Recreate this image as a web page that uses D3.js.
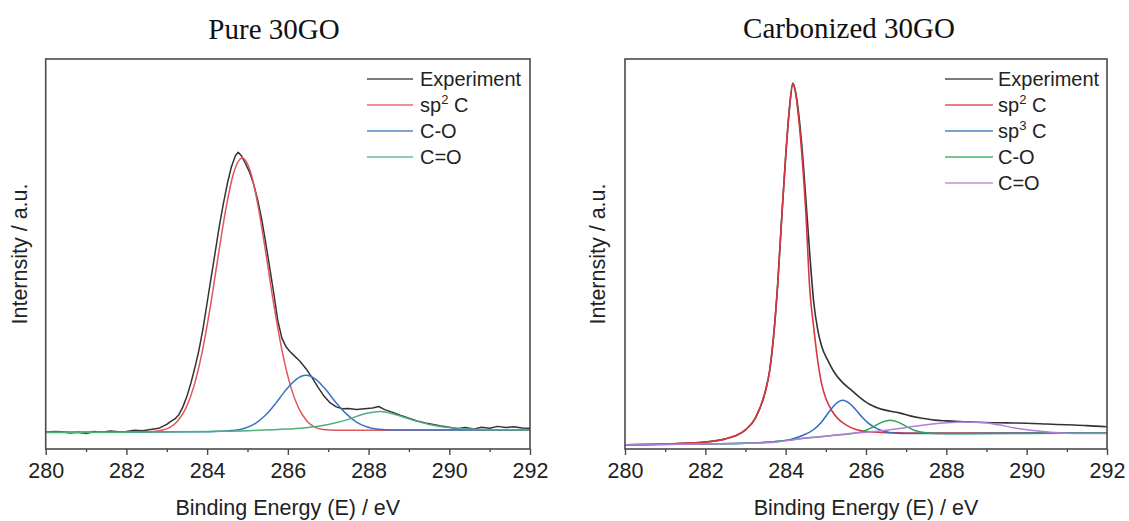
<!DOCTYPE html>
<html><head><meta charset="utf-8">
<script src="https://cdn.jsdelivr.net/npm/d3@7"></script>
<style>body{margin:0;background:#fff}svg{display:block}</style>
</head><body><svg id="c" width="1129" height="521"></svg>
<script>
// ---------- shared axis text ----------
const xMajorTicks = [280, 282, 284, 286, 288, 290, 292];
const xMinorTicks = [281, 283, 285, 287, 289, 291];
const xLabelText = "Binding Energy (E) / eV";
const yLabelText = "Internsity / a.u.";

// ---------- Pure 30GO (left) : [binding energy, intensity a.u.] ----------
const pureTitle = "Pure 30GO";
const pureLegend = ["Experiment", "sp^2 C", "C-O", "C=O"];
const pureExperiment = [
  [280.0,4.3],[280.2,4.5],[280.4,4.4],[280.6,4.1],[280.8,4.3],[281.0,4.0],[281.2,4.5],[281.4,4.3],
  [281.6,4.6],[281.8,4.4],[282.0,4.5],[282.2,4.8],[282.4,4.7],[282.6,5.0],[282.8,5.3],[283.0,6.3],
  [283.1,7.1],[283.2,7.7],[283.3,8.8],[283.4,10.8],[283.5,13.5],[283.6,17],[283.7,21],[283.8,25.5],
  [283.9,31],[284.0,37.5],[284.1,44],[284.2,50.5],[284.3,57],[284.4,62.8],[284.5,68],[284.6,72.3],
  [284.7,75.2],[284.77,76.1],[284.85,75.2],[284.95,73.2],[285.05,71],[285.15,68],[285.25,64],
  [285.35,59],[285.45,53],[285.55,46.5],[285.65,40],[285.75,33],[285.85,28.5],[285.95,26.3],
  [286.05,25],[286.15,24],[286.3,22.5],[286.45,20.6],[286.6,18.3],[286.75,15.8],[286.9,13.5],
  [287.05,11.8],[287.2,10.8],[287.35,10.3],[287.5,10.4],[287.7,10.1],[287.9,10.3],[288.1,10.5],
  [288.25,10.9],[288.4,10.1],[288.6,9.4],[288.8,8.6],[289.0,7.9],[289.2,7.2],[289.4,6.7],
  [289.6,6.3],[289.8,5.9],[290.0,5.6],[290.2,5.2],[290.4,5.5],[290.6,5.1],[290.8,5.6],[291.0,5.3],
  [291.2,5.8],[291.4,5.5],[291.6,5.7],[291.8,5.4],[292.0,5.3]
];
const pureSp2 = [
  [280,4.3],[282,4.3],[282.4,4.4],[282.67,4.5],[282.87,4.8],[283.07,5.5],[283.27,7.2],[283.47,10.4],
  [283.67,16.0],[283.87,24.5],[284.07,35.9],[284.27,49.2],[284.47,61.9],[284.67,71.2],[284.87,74.6],
  [285.07,71.2],[285.27,61.9],[285.47,49.2],[285.67,35.9],[285.87,24.5],[286.07,16.0],[286.27,10.4],
  [286.47,7.2],[286.67,5.6],[286.87,5.0],[287.2,4.8],[288,4.8],[290,4.85],[292,4.9]
];
const pureCO = [
  [280,4.3],[282,4.35],[283.5,4.4],[284.2,4.5],[284.7,4.8],[284.95,5.4],[285.2,6.6],[285.45,8.7],
  [285.7,11.7],[285.95,15.1],[286.2,17.8],[286.45,18.9],[286.7,17.8],[286.95,15.1],[287.2,11.8],
  [287.45,9.0],[287.7,6.9],[287.95,5.7],[288.2,5.1],[288.6,4.85],[290,4.85],[292,4.9]
];
const pureCdO = [
  [280,4.2],[282,4.3],[284,4.5],[285,4.7],[286,5.1],[286.5,5.5],[287,6.3],[287.5,7.6],[287.8,8.7],
  [288.1,9.4],[288.3,9.6],[288.5,9.3],[288.8,8.4],[289.1,7.4],[289.5,6.3],[290,5.5],[290.5,5.1],
  [291,4.95],[292,4.9]
];

// ---------- Carbonized 30GO (right) ----------
const carbTitle = "Carbonized 30GO";
const carbLegend = ["Experiment", "sp^2 C", "sp^3 C", "C-O", "C=O"];
const carbExperiment = [
  [280,1.1],[281,1.3],[282,1.8],[282.5,2.6],[282.75,3.4],[283,4.9],[283.25,8.0],[283.5,15],
  [283.6,20],[283.7,29],[283.8,42],[283.9,59],[284.0,75],[284.1,88],[284.18,93.8],[284.24,91.8],
  [284.3,88],[284.4,78],[284.5,64.5],[284.6,50],[284.7,37.5],[284.8,30.5],[284.9,26.2],[285.05,22.7],
  [285.2,19.8],[285.4,17.2],[285.6,15.4],[285.85,13.2],[286.1,11.4],[286.35,10.3],[286.6,9.7],
  [286.85,9.2],[287.1,8.5],[287.4,7.9],[287.7,7.4],[288.0,7.2],[288.5,7.0],[289.0,6.8],[289.5,6.7],
  [290.0,6.6],[290.5,6.4],[291.0,6.2],[291.5,6.0],[292.0,5.7]
];
const carbSp2 = [
  [280,1.1],[281,1.3],[282,1.8],[282.5,2.6],[282.75,3.4],[283,4.9],[283.25,8.0],[283.5,15],
  [283.6,20],[283.7,29],[283.8,42],[283.9,59],[284.0,75],[284.1,88],[284.18,93.8],[284.24,91.8],
  [284.3,87],[284.4,76],[284.5,61],[284.6,41],[284.7,31],[284.8,22.5],[284.9,16.5],[285.0,13],
  [285.15,9.8],[285.3,7.8],[285.5,6.2],[285.75,5.0],[286.0,4.5],[286.5,4.2],[287,4.1],[288,4.1],
  [290,4.1],[292,4.1]
];
const carbSp3 = [
  [280,1.1],[282,1.3],[283,1.5],[283.5,1.7],[283.8,2.0],[284.1,2.4],[284.4,3.4],[284.7,5.0],
  [284.9,7.0],[285.1,9.8],[285.25,11.6],[285.42,12.5],[285.6,11.6],[285.75,10.0],[285.9,8.2],
  [286.05,6.7],[286.2,5.6],[286.4,4.7],[286.6,4.2],[286.85,4.0],[288,4.0],[292,4.1]
];
const carbCO = [
  [280,1.1],[282,1.3],[283.5,1.7],[284.5,2.8],[285.3,3.6],[285.8,4.2],[286.0,4.8],[286.2,5.8],
  [286.4,6.9],[286.6,7.4],[286.8,6.9],[287.0,5.8],[287.2,4.8],[287.4,4.3],[287.7,4.0],[288.5,3.9],
  [290,4.0],[292,4.1]
];
const carbCdO = [
  [280,1.1],[282,1.3],[283.5,1.6],[283.8,1.8],[284.2,2.4],[284.7,3.0],[285.2,3.5],[285.6,4.0],
  [286.0,4.3],[286.5,4.8],[287.0,5.5],[287.5,6.2],[288.0,6.7],[288.4,6.9],[288.9,6.8],[289.3,6.2],
  [289.7,5.4],[290.1,4.8],[290.6,4.3],[291.2,4.0],[292,4.0]
];

// ---------- drawing ----------
const svg = d3.select("#c");
const FONT = "'Liberation Sans', Arial, sans-serif";

function drawPanel(cfg) {
  const x = d3.scaleLinear().domain([280, 292]).range([cfg.left, cfg.right]);
  const y = d3.scaleLinear().domain([0, 100]).range([cfg.bottom, cfg.top]);
  const g = svg.append("g");

  g.append("text").attr("x", cfg.titleX).attr("y", cfg.titleY)
    .attr("text-anchor", "middle").attr("font-family", "'Liberation Serif','Times New Roman',serif")
    .attr("font-size", 29).attr("fill", "#111").text(cfg.title);

  const plot = g.append("g");
  cfg.series.forEach(s => {
    const line = d3.line().x(d => x(d[0])).y(d => y(d[1]))
      .curve(s.smooth ? d3.curveMonotoneX : d3.curveLinear);
    plot.append("path").datum(s.data).attr("d", line)
      .attr("fill", "none").attr("stroke", s.color).attr("stroke-width", s.width)
      .attr("stroke-linejoin", "round");
  });

  g.append("rect").attr("x", cfg.left).attr("y", cfg.top)
    .attr("width", cfg.right - cfg.left).attr("height", cfg.bottom - cfg.top)
    .attr("fill", "none").attr("stroke", "#4a4a4a").attr("stroke-width", 1.6);

  const ax = g.append("g").attr("transform", `translate(0,${cfg.bottom})`)
    .call(d3.axisBottom(x).tickValues(xMajorTicks).tickSize(6).tickPadding(8).tickFormat(d3.format("d")));
  ax.select(".domain").remove();
  ax.selectAll("line").attr("stroke", "#4a4a4a").attr("stroke-width", 1.4);
  ax.selectAll("text").attr("font-family", FONT).attr("font-size", 21.5).attr("fill", "#222");
  const axm = g.append("g").attr("transform", `translate(0,${cfg.bottom})`)
    .call(d3.axisBottom(x).tickValues(xMinorTicks).tickSize(3).tickFormat(""));
  axm.select(".domain").remove();
  axm.selectAll("line").attr("stroke", "#4a4a4a").attr("stroke-width", 1.4);

  g.append("text").attr("x", (cfg.left + cfg.right) / 2).attr("y", 515)
    .attr("text-anchor", "middle").attr("font-family", FONT).attr("font-size", 21.5)
    .attr("fill", "#222").text(xLabelText);
  g.append("text").attr("transform", `translate(${cfg.ylabX},${(cfg.top + cfg.bottom) / 2}) rotate(-90)`)
    .attr("text-anchor", "middle").attr("font-family", FONT).attr("font-size", 21.5)
    .attr("fill", "#222").text(yLabelText);

  cfg.legend.forEach((lab, i) => {
    const yy = cfg.legY + i * 26;
    const col = cfg.series[i].color;
    g.append("line").attr("x1", cfg.legX0).attr("x2", cfg.legX1).attr("y1", yy).attr("y2", yy)
      .attr("stroke", col).attr("stroke-width", 1.6).attr("opacity", 0.85);
    const t = g.append("text").attr("x", cfg.legText).attr("y", yy + 7)
      .attr("font-family", FONT).attr("font-size", 20).attr("fill", "#222");
    const m = lab.match(/^(.*)\^(\d)(.*)$/);
    if (m) {
      t.append("tspan").text(m[1]);
      t.append("tspan").attr("font-size", 13).attr("dy", -8).text(m[2]);
      t.append("tspan").attr("dy", 8).text(m[3]);
    } else t.text(lab);
  });
}

drawPanel({
  title: pureTitle, titleX: 274, titleY: 39,
  left: 45.7, right: 530, top: 59, bottom: 449, ylabX: 27,
  legend: pureLegend, legX0: 367, legX1: 413, legText: 420, legY: 79,
  series: [
    { data: pureCdO, color: "#4fae7c", width: 1.5, smooth: true },
    { data: pureCO, color: "#3a73c6", width: 1.5, smooth: true },
    { data: pureSp2, color: "#e0565a", width: 1.5, smooth: true },
    { data: pureExperiment, color: "#333333", width: 1.5, smooth: false }
  ].reverse()
});

drawPanel({
  title: carbTitle, titleX: 849, titleY: 38,
  left: 625, right: 1107, top: 59, bottom: 449, ylabX: 605,
  legend: carbLegend, legX0: 945, legX1: 993, legText: 998, legY: 79,
  series: [
    { data: carbCdO, color: "#b47ddb", width: 1.5, smooth: true },
    { data: carbCO, color: "#2ba45e", width: 1.5, smooth: true },
    { data: carbSp3, color: "#2f6cc0", width: 1.5, smooth: true },
    { data: carbSp2, color: "#d8363e", width: 1.6, smooth: true },
    { data: carbExperiment, color: "#333333", width: 1.6, smooth: true }
  ].reverse()
});
</script></body></html>
